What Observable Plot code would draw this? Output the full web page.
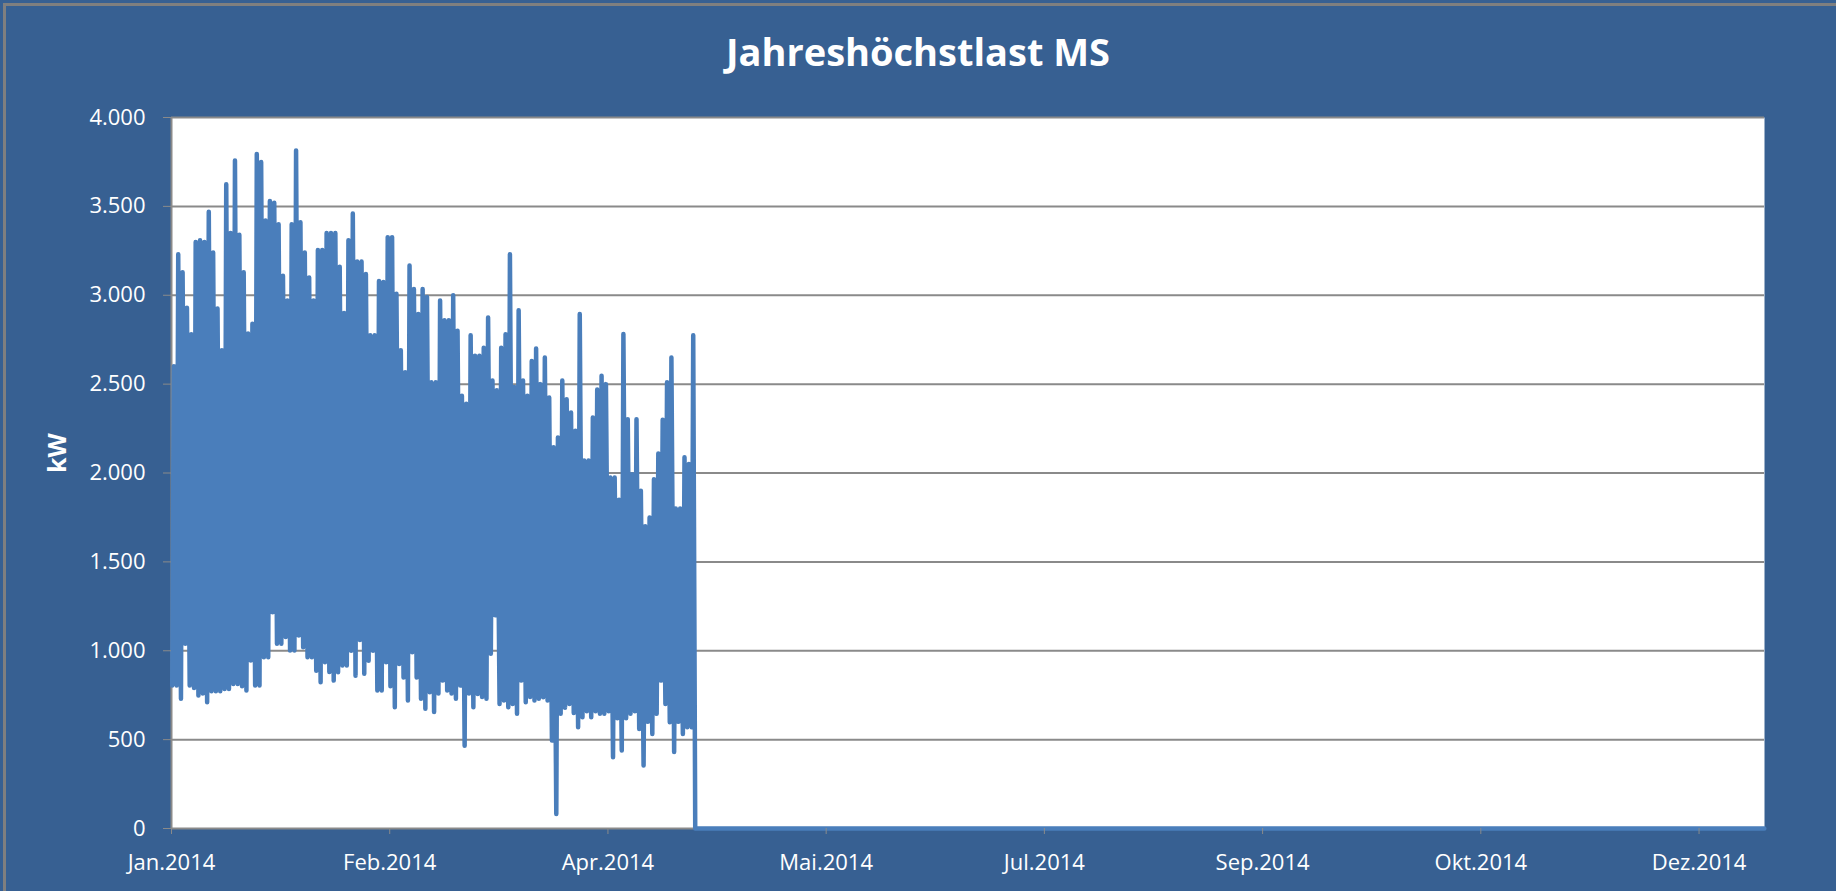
<!DOCTYPE html>
<html>
<head>
<meta charset="utf-8">
<script src="https://cdn.jsdelivr.net/npm/d3@7"></script>
<script src="https://cdn.jsdelivr.net/npm/@observablehq/plot@0.6"></script>
<style>
  html, body { margin: 0; padding: 0; background: #b8b8b8; }
  #chart { position: absolute; left: 0; top: 0; width: 1836px; height: 891px; background: #376092; overflow: hidden; }
  #edge { position: absolute; left: 3px; top: 3px; width: 1833px; height: 888px; border-left: 3px solid #7f7f7f; border-top: 3px solid #7f7f7f; box-sizing: border-box; }
  #title { position: absolute; left: 0; top: 25px; width: 1836px; text-align: center; color: #fff; font-family: "Open Sans", sans-serif; font-weight: bold; font-size: 38px; line-height: 52px; }
  #plot { position: absolute; left: 0; top: 100px; }
</style>
</head>
<body>
<div id="chart">
  <div id="edge"></div>
  <div id="title">Jahreshöchstlast MS</div>
  <div id="plot"></div>
</div>
<script>
// Daily peak (kW) for 1 Jan – 30 Apr 2014
const dayMax = [
  2600, 3230, 3130, 2930, 2780, 3300, 3310, 3300, 3470, 3240,
  2925, 2690, 3625, 3350, 3758, 3340, 3130, 2785, 2840, 3795,
  3750, 3420, 3530, 3520, 3400, 3110, 2970, 3400, 3815, 3410,
  3240, 3100, 2970, 3255, 3255, 3350, 3350, 3350, 3160, 2900,
  3310, 3460, 3190, 3190, 3120, 2775, 2775, 3080, 3075, 3327,
  3327, 3008, 2690, 2567, 3167, 3035, 2894, 3035, 2990, 2510,
  2510, 2970, 2860, 2860, 3000, 2800, 2435, 2390, 2775, 2660,
  2660, 2705, 2875, 2520, 2465, 2705, 2780, 3230, 2484, 2915,
  2520, 2435, 2630, 2700, 2500, 2650, 2425, 2145, 2200, 2520,
  2415, 2340, 2237, 2894, 2070, 2070, 2312, 2470, 2547, 2500,
  1975, 1975, 1850, 2782, 2303, 1993, 2303, 1900, 1700, 1750,
  1965, 2110, 2300, 2510, 2650, 1800, 1800, 2088, 2050, 2775
];
// Daily low (kW), same days
const dayMin = [
  804, 804, 730, 1039, 804, 790, 748, 760, 710, 772,
  772, 772, 785, 785, 813, 813, 800, 776, 945, 804,
  804, 963, 963, 1217, 1039, 1039, 1077, 1001, 1001, 1086,
  1020, 963, 963, 888, 823, 936, 880, 832, 879, 917,
  917, 1000, 860, 1060, 870, 944, 1000, 776, 776, 936,
  800, 682, 926, 850, 720, 992, 850, 730, 674, 767,
  655, 760, 832, 776, 760, 730, 804, 466, 760, 682,
  757, 740, 730, 983, 1200, 701, 720, 682, 700, 645,
  832, 710, 740, 720, 730, 738, 720, 495, 82, 645,
  680, 701, 650, 570, 626, 660, 626, 660, 645, 645,
  660, 401, 620, 439, 620, 645, 660, 560, 354, 600,
  532, 645, 832, 700, 598, 430, 600, 532, 570, 570
];
// Hour of day for the low and the peak
const lowHour = 4;
const peakHour = 13;
// After the end of April the series is zero until the end of the year (hour index)
const tailHours = [2880, 8759];
const tailKw = [0, 0];

// Category axis labels (Excel shows every 1200th hourly value)
const tickHours = [0, 1200, 2400, 3600, 4800, 6000, 7200, 8400];
const tickLabels = ["Jan.2014", "Feb.2014", "Apr.2014", "Mai.2014", "Jul.2014", "Sep.2014", "Okt.2014", "Dez.2014"];
const yTicks = [0, 500, 1000, 1500, 2000, 2500, 3000, 3500, 4000];
const yLabel = "kW";

const series = [];
dayMax.forEach((mx, d) => {
  series.push({hour: d * 24 + lowHour, kw: dayMin[d]});
  series.push({hour: d * 24 + peakHour, kw: mx});
});
tailHours.forEach((h, i) => series.push({hour: h, kw: tailKw[i]}));

const de = d3.formatLocale({decimal: ",", thousands: ".", grouping: [3], currency: ["", " €"]});
const fmt = de.format(",d");

const chart = Plot.plot({
  width: 1836,
  height: 791,
  marginLeft: 171,
  marginRight: 72,
  marginTop: 17,
  marginBottom: 63,
  style: {background: "transparent", color: "white", fontFamily: "'Open Sans', sans-serif", fontSize: "22px", overflow: "visible"},
  x: {type: "linear", domain: [0, 8760]},
  y: {domain: [0, 4000]},
  marks: [
    Plot.frame({fill: "white", stroke: null}),
    Plot.ruleY(yTicks.filter(v => v > 0), {stroke: "#8a8a8a", strokeWidth: 2}),
    Plot.ruleX([0], {stroke: "#8a8a8a", strokeWidth: 2}),
    Plot.ruleY([0], {stroke: "#8a8a8a", strokeWidth: 2}),
    Plot.line(series, {x: "hour", y: "kw", stroke: "#4a7ebb", strokeWidth: 4.5, strokeLinejoin: "round", strokeLinecap: "round"}),
    Plot.axisX({ticks: tickHours, tickFormat: d => tickLabels[tickHours.indexOf(d)], tickSize: 6, tickPadding: 20, stroke: "#8a8a8a", label: null}),
    Plot.axisY({ticks: yTicks, tickFormat: fmt, tickSize: 8, tickPadding: 18, stroke: "#8a8a8a", label: null}),
    Plot.text([yLabel], {frameAnchor: "left", dx: -114, rotate: -90, fontWeight: "bold", fontSize: 25, fill: "white"})
  ]
});
document.getElementById("plot").appendChild(chart);
</script>
</body>
</html>
